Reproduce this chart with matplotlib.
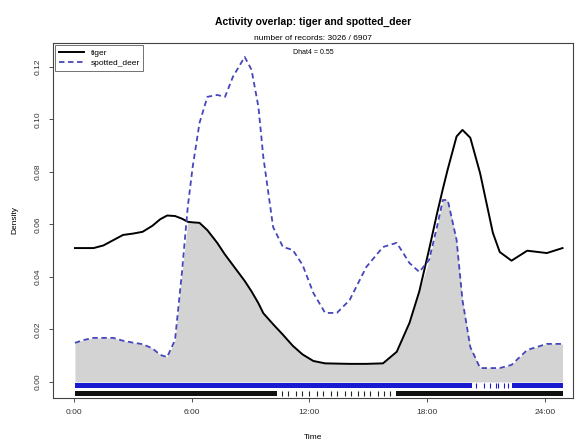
import numpy as np
import matplotlib
matplotlib.use("Agg")
import matplotlib.pyplot as plt

plt.rcParams['font.family'] = ['Liberation Sans', 'DejaVu Sans']

# kernel density curves, hours of day vs density
hours = [0.05, 0.5, 1.0, 1.5, 2.0, 2.5, 3.0, 3.5, 4.0, 4.4, 4.75, 5.15, 5.5, 5.8,
         6.05, 6.4, 6.8, 7.3, 7.7, 8.1, 8.7, 9.05, 9.4, 9.65, 10.15, 10.65, 11.15,
         11.65, 12.2, 12.8, 13.4, 14.05, 14.9, 15.75, 16.45, 17.1, 17.6, 18.1, 18.5,
         18.8, 19.05, 19.5, 19.8, 20.2, 20.7, 21.35, 21.7, 22.3, 23.1, 24.1, 24.9]
tiger = [0.0510, 0.0510, 0.0510, 0.0520, 0.0540, 0.0560, 0.0565, 0.0572, 0.0595,
         0.0620, 0.0634, 0.0632, 0.0622, 0.0610, 0.0608, 0.0606, 0.0578, 0.0530,
         0.0485, 0.0445, 0.0385, 0.0345, 0.0300, 0.0262, 0.0220, 0.0180, 0.0138,
         0.0105, 0.0080, 0.0071, 0.0070, 0.0069, 0.0069, 0.0071, 0.0115, 0.0225,
         0.0345, 0.0505, 0.0640, 0.0735, 0.0810, 0.0935, 0.0960, 0.0930, 0.0795,
         0.0568, 0.0495, 0.0462, 0.0500, 0.0491, 0.0510]
spotted_deer = [0.0149, 0.0160, 0.0168, 0.0168, 0.0168, 0.0157, 0.0150, 0.0144,
                0.0128, 0.0103, 0.0095, 0.0160, 0.0415, 0.0667, 0.0819, 0.0987,
                0.1086, 0.1093, 0.1086, 0.1162, 0.1238, 0.1189, 0.1048, 0.0857,
                0.0590, 0.0514, 0.0503, 0.0446, 0.0339, 0.0263, 0.0263, 0.0312,
                0.0438, 0.0514, 0.0530, 0.0453, 0.0419, 0.0465, 0.0590, 0.0693,
                0.0693, 0.0541, 0.0312, 0.0133, 0.0053, 0.0053, 0.0053, 0.0065,
                0.0122, 0.0145, 0.0145]

# rug of record times: dense stretches (start, width) and single isolated records
deer_dense = [(0.05, 5.2), (5.2, 15.1), (22.3, 2.6)]
deer_single = [20.5, 20.9, 21.2, 21.5, 21.6, 21.9, 22.1]
tiger_dense = [(0.05, 10.3), (16.4, 8.5)]
tiger_single = [10.6, 10.9, 11.3, 11.6, 12.0, 12.4, 12.7, 13.1, 13.4, 13.8,
                14.1, 14.5, 14.8, 15.1, 15.5, 15.8, 16.1]

tick_hours = [0, 6, 12, 18, 24]
tick_labels = ['0:00', '6:00', '12:00', '18:00', '24:00']
y_ticks = [0.00, 0.02, 0.04, 0.06, 0.08, 0.10, 0.12]

hours = np.array(hours)
tiger = np.array(tiger)
spotted_deer = np.array(spotted_deer)
overlap = np.minimum(tiger, spotted_deer)
dhat = np.trapezoid(overlap, hours)

fig = plt.figure(figsize=(5.79, 4.45), dpi=100)
ax = fig.add_axes([0.0915, 0.1056, 0.898, 0.7978])

ax.fill_between(hours, 0, overlap, color='#d3d3d3', lw=0)
ax.plot(hours, tiger, color='black', lw=1.4, label='tiger')
ax.plot(hours, spotted_deer, color='#4646bc', lw=1.3, ls=(0, (3, 2)), label='spotted_deer')

# rugs below the zero line
ax.broken_barh(deer_dense, (-0.0024, 0.0021), color='#1a1ad0', lw=0)
ax.vlines(deer_single, -0.0024, -0.0003, color='#1a1ad0', lw=0.8)
ax.broken_barh(tiger_dense, (-0.0052, 0.0018), color='#111111', lw=0)
ax.vlines(tiger_single, -0.0052, -0.0034, color='#222222', lw=0.8)

ax.set_xlim(-1.07, 25.43)
ax.set_ylim(-0.0061, 0.1291)
ax.set_xticks(tick_hours)
ax.set_xticklabels(tick_labels, fontsize=6)
ax.set_yticks(y_ticks)
ax.set_yticklabels(['%.2f' % v for v in y_ticks], fontsize=6, rotation=90, va='center')
ax.tick_params(length=3, width=0.6, colors='#333333', pad=5)
for s in ax.spines.values():
    s.set_color('#444444')
    s.set_linewidth(0.8)

ax.set_xlabel('Time', fontsize=6, labelpad=13)
ax.set_ylabel('Density', fontsize=6, labelpad=12)

leg = ax.legend(loc='upper left', fontsize=6, frameon=True, fancybox=False,
                borderaxespad=0.25, handlelength=3.0, borderpad=0.45, labelspacing=0.35)
leg.get_frame().set_edgecolor('#333333')
leg.get_frame().set_linewidth(0.6)

fig.text(0.54, 0.950, 'Activity overlap: tiger and spotted_deer', ha='center',
         va='center', fontsize=7.5, fontweight='bold')
fig.text(0.54, 0.914, 'number of records: 3026 / 6907', ha='center', va='center',
         fontsize=6)
ax.text(0.5, 0.972, 'Dhat4 = %.2f' % dhat, transform=ax.transAxes, ha='center',
        va='center', fontsize=5)

fig.savefig('out.png', dpi=100)
